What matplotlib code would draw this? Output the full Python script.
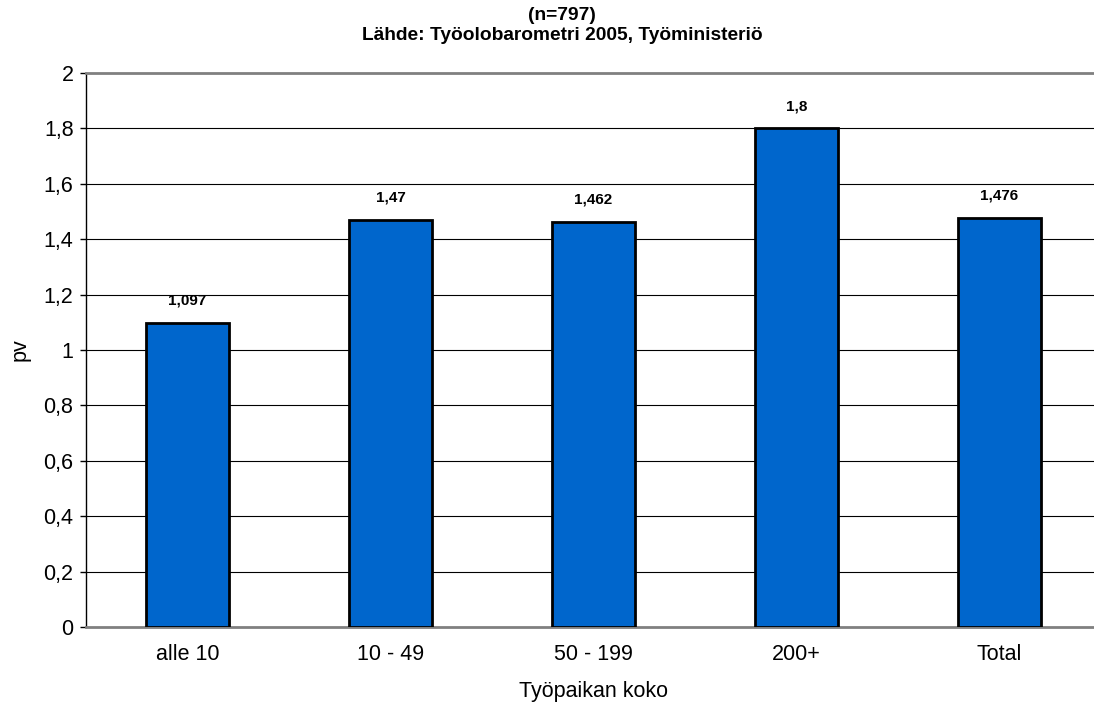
import matplotlib
matplotlib.use("Agg")
import matplotlib.pyplot as plt

categories = ["alle 10", "10 - 49", "50 - 199", "200+", "Total"]
values = [1.097, 1.47, 1.462, 1.8, 1.476]
value_labels = ["1,097", "1,47", "1,462", "1,8", "1,476"]
yticks = [0, 0.2, 0.4, 0.6, 0.8, 1.0, 1.2, 1.4, 1.6, 1.8, 2.0]
ytick_labels = ["0", "0,2", "0,4", "0,6", "0,8", "1", "1,2", "1,4", "1,6", "1,8", "2"]

plt.rcParams['font.family'] = ['Liberation Sans', 'DejaVu Sans']

W, H = 1094, 704
fig = plt.figure(figsize=(W / 100, H / 100), dpi=100)
left, right, top, bottom = 86, 1101, 73, 627
ax = fig.add_axes([left / W, 1 - bottom / H, (right - left) / W, (bottom - top) / H])

x = list(range(len(categories)))
ax.bar(x, values, width=0.41, color="#0066CC", edgecolor="black", linewidth=2, zorder=3)
for xi, v, lab in zip(x, values, value_labels):
    ax.annotate(lab, (xi, v), xytext=(0, 11), textcoords="offset points",
                ha="center", va="bottom", fontsize=11, fontweight="bold")

ax.set_xlim(-0.5, len(categories) - 0.5)
ax.set_ylim(0, 2)
ax.set_yticks(yticks)
ax.set_yticklabels(ytick_labels, fontsize=15.5)
ax.set_xticks(x)
ax.set_xticklabels(categories, fontsize=15.5)
ax.tick_params(axis="x", length=0, pad=12)
ax.tick_params(axis="y", length=4.5, width=1, direction="out", pad=4.5)

for yv in yticks[1:-1]:
    ax.axhline(yv, color="black", linewidth=0.8, zorder=1)

ax.spines["right"].set_visible(False)
ax.spines["top"].set_color("#808080")
ax.spines["top"].set_linewidth(2)
ax.spines["bottom"].set_color("#808080")
ax.spines["bottom"].set_linewidth(2)
ax.spines["left"].set_color("black")
ax.spines["left"].set_linewidth(1)

fig.text(20 / W, 1 - 350 / H, "pv", rotation=90, ha="center", va="center", fontsize=15.5)
ax.set_xlabel("Työpaikan koko", fontsize=15.5, labelpad=12)

fig.text(562 / W, 1 - 15 / H, "(n=797)", ha="center", va="center", fontsize=13.8, fontweight="bold")
fig.text(562 / W, 1 - 36 / H, "Lähde: Työolobarometri 2005, Työministeriö", ha="center", va="center",
         fontsize=13.8, fontweight="bold")

fig.savefig("out.png", dpi=100)
